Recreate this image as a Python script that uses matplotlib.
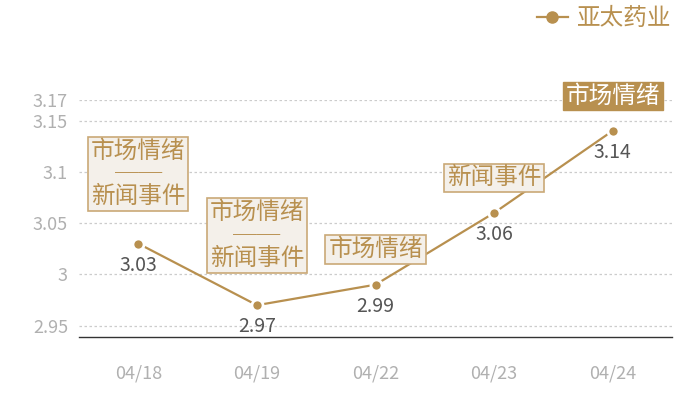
import matplotlib
matplotlib.use('Agg')
import matplotlib.pyplot as plt
from matplotlib.lines import Line2D

plt.rcParams['font.family'] = ['Noto Sans CJK SC', 'DejaVu Sans']

# data
dates = ['04/18', '04/19', '04/22', '04/23', '04/24']
prices = [3.03, 2.97, 2.99, 3.06, 3.14]
tags = ['市场情绪\n──\n新闻事件', '市场情绪\n──\n新闻事件', '市场情绪', '新闻事件', '市场情绪']
tag_y = [3.098, 3.038, 3.024, 3.094, 3.174]
yticks = [2.95, 3.0, 3.05, 3.1, 3.15, 3.17]
ytick_labels = ['2.95', '3', '3.05', '3.1', '3.15', '3.17']
series_name = '亚太药业'

GOLD = '#b8904f'
BOX_EDGE = '#caa977'
BOX_FILL = '#f4f0ea'

fig = plt.figure(figsize=(7, 4), dpi=100)
ax = fig.add_axes([0.113, 0.1575, 0.847, 0.5925])

x = list(range(len(dates)))
ax.plot(x, prices, color=GOLD, lw=1.6, marker='o', ms=8,
        markerfacecolor=GOLD, markeredgecolor='white', markeredgewidth=2,
        zorder=3)

for i, v in enumerate(prices):
    ax.text(i, v - 0.011, f'{v:.2f}', ha='center', va='top',
            fontsize=14, color='#555555', zorder=4)

for i, t in enumerate(tags):
    if i == len(tags) - 1:
        ax.text(i, tag_y[i], t, ha='center', va='center', fontsize=17,
                fontweight='light', color='white', linespacing=1.0, zorder=5,
                bbox=dict(boxstyle='square,pad=0.12', fc=GOLD, ec=GOLD))
    else:
        ax.text(i, tag_y[i], t, ha='center', va='center', fontsize=17,
                fontweight='light', color=GOLD, linespacing=1.0, zorder=5,
                bbox=dict(boxstyle='square,pad=0.12', fc=BOX_FILL, ec=BOX_EDGE, lw=1.2))

ax.set_xlim(-0.5, len(dates) - 0.5)
ax.set_ylim(2.939, 3.17)
ax.set_xticks(x)
ax.set_xticklabels(dates)
ax.set_yticks(yticks)
ax.set_yticklabels(ytick_labels)
ax.tick_params(axis='both', length=0, labelsize=13, labelcolor='#b0b0b0')
ax.tick_params(axis='x', pad=20)
ax.tick_params(axis='y', pad=8)
ax.grid(axis='y', color='#cccccc', ls=(0, (2, 2)), lw=0.9)
ax.set_axisbelow(True)
for s in ['top', 'right', 'left']:
    ax.spines[s].set_visible(False)
ax.spines['bottom'].set_color('#333333')
ax.spines['bottom'].set_linewidth(1)

handle = Line2D([], [], color=GOLD, lw=1.6, marker='o', ms=8,
                markerfacecolor=GOLD, markeredgecolor=GOLD)
leg = fig.legend([handle], [series_name], loc='upper right',
                 bbox_to_anchor=(0.99, 1.035), frameon=False,
                 fontsize=17, handlelength=1.3, handletextpad=0.4)
for txt in leg.get_texts():
    txt.set_color(GOLD)

fig.savefig('out.png', dpi=100)
